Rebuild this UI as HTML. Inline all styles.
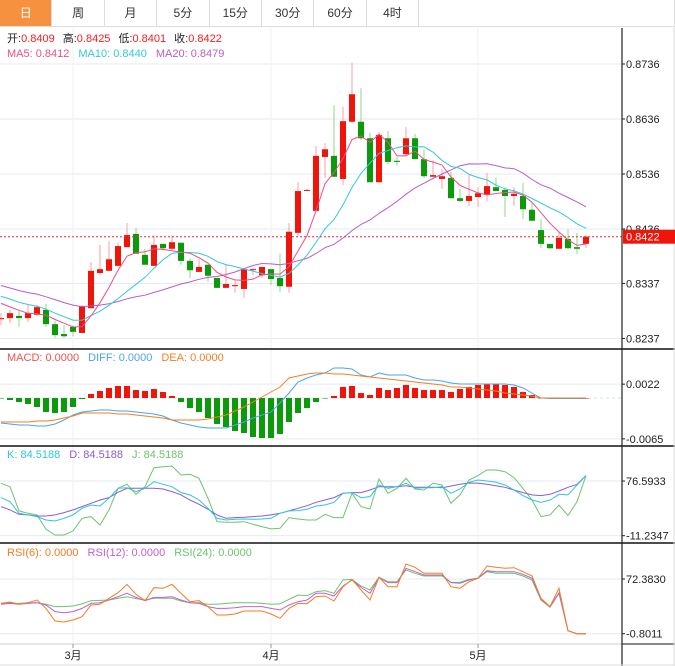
<!DOCTYPE html>
<html><head><meta charset="utf-8">
<style>
html,body{margin:0;padding:0;background:#fff;}
body{width:675px;height:666px;overflow:hidden;font-family:"Liberation Sans","Noto Sans CJK SC",sans-serif;}
.tabs{position:absolute;left:0;top:0;height:27px;display:flex;border-bottom:1px solid #ddd;width:675px;box-sizing:border-box;border-right:1px solid #ddd;}
.tab{width:52.4px;height:26px;line-height:26px;text-align:center;font-size:12px;color:#333;border-right:1px solid #ddd;box-sizing:border-box;}
.tab.on{background:#f5913f;color:#fff;}
svg{position:absolute;left:0;top:0;}
</style></head><body>
<div class="tabs">
<div class="tab on">日</div>
<div class="tab">周</div>
<div class="tab">月</div>
<div class="tab">5分</div>
<div class="tab">15分</div>
<div class="tab">30分</div>
<div class="tab">60分</div>
<div class="tab">4时</div>
</div>
<svg id="c" width="675" height="666" viewBox="0 0 675 666"></svg>
<script>
// ---- price data (units of 0.0001) ----
const preCloses=[8372,8365,8360,8350,8358,8345,8352,8340,8348,8340,8330,8334,8322,8326,8318,8315,8305,8310,8300];
const opens=[8272,8274,8278,8274,8280,8289,8263,8245,8258,8247,8292,8356,8360,8369,8403,8427,8389,8369,8409,8400,8411,8378,8358,8371,8347,8329,8332,8327,8363,8352,8363,8347,8331,8429,8507,8469,8567,8569,8527,8631,8631,8601,8521,8601,8560,8572,8601,8563,8531,8527,8529,8492,8487,8494,8498,8512,8507,8496,8496,8471,8434,8409,8400,8418,8403,8409];
const highs=[8283,8289,8287,8298,8298,8300,8269,8261,8261,8298,8376,8407,8414,8411,8447,8438,8400,8425,8409,8425,8411,8383,8381,8371,8347,8371,8343,8363,8363,8367,8363,8391,8447,8521,8509,8587,8592,8661,8658,8738,8692,8611,8612,8614,8567,8621,8609,8581,8561,8545,8540,8509,8534,8512,8538,8529,8512,8512,8520,8485,8454,8409,8431,8436,8429,8425];
const lows=[8261,8265,8258,8267,8278,8258,8238,8238,8241,8247,8292,8352,8360,8369,8403,8391,8371,8369,8396,8396,8371,8347,8358,8340,8329,8329,8320,8311,8352,8347,8334,8321,8320,8423,8505,8469,8529,8531,8516,8629,8598,8521,8521,8554,8551,8569,8563,8529,8531,8509,8492,8485,8478,8476,8487,8505,8458,8478,8454,8451,8401,8400,8400,8400,8391,8401];
const closes=[8274,8283,8274,8283,8294,8263,8243,8241,8249,8296,8360,8363,8381,8405,8425,8391,8371,8407,8401,8412,8378,8361,8367,8351,8329,8336,8334,8363,8363,8367,8345,8332,8431,8505,8507,8569,8581,8531,8632,8681,8601,8521,8607,8558,8558,8601,8563,8532,8534,8532,8492,8487,8496,8501,8514,8505,8496,8500,8472,8451,8409,8401,8420,8401,8400,8422];
const priceTicks=["0.8736","0.8636","0.8536","0.8436","0.8337","0.8237"];
// ---- MACD (units of 0.0001) ----
const macdHist=[-0.8,-3.2,-6.4,-9.5,-14.3,-22.3,-23.9,-22.3,-14.3,-1.6,6.4,11.1,15.9,19.1,19.1,12.7,11.1,14.3,9.5,3.2,-6.4,-15.9,-22.3,-31.8,-41.3,-46.1,-52.5,-55.7,-62.0,-63.6,-63.6,-57.2,-38.2,-23.9,-15.9,-6.4,-0.8,3.2,17.5,19.1,7.9,4.8,15.9,12.7,15.9,20.7,15.9,12.7,12.7,12.7,9.5,14.3,17.5,20.7,22.3,22.3,20.7,17.5,9.5,4.8,0,0,0,0,0,0];
const diffVals=[-39.8,-41.3,-42.9,-42.9,-44.5,-44.5,-41.3,-35.0,-27.0,-22.3,-20.7,-19.1,-19.1,-20.7,-20.7,-22.3,-23.9,-25.4,-28.6,-35.0,-39.8,-42.9,-46.1,-47.7,-47.7,-47.7,-42.9,-38.2,-31.8,-27.0,-22.3,-7.9,7.9,25.4,31.8,36.6,39.8,47.7,47.7,46.1,36.6,33.4,39.8,36.6,36.6,36.6,31.8,28.6,28.6,27.0,23.9,22.3,22.3,22.3,22.3,22.3,22.3,20.7,15.9,7.9,0,-0.8,-0.8,-0.8,-0.8,-0.8];
const deaVals=[-38.2,-38.2,-38.2,-38.2,-36.6,-36.6,-35.0,-31.8,-28.6,-23.9,-23.9,-23.9,-23.9,-25.4,-25.4,-27.0,-28.6,-30.2,-31.8,-35.0,-35.0,-35.0,-35.0,-33.4,-30.2,-27.0,-20.7,-14.3,-6.4,1.6,9.5,17.5,31.8,35.0,38.2,39.8,39.8,38.2,38.2,36.6,35.0,33.4,31.8,30.2,28.6,27.0,25.4,23.9,22.3,20.7,17.5,17.5,15.9,14.3,12.7,11.1,7.9,6.4,4.8,3.2,0,0,0,0,0,0];
const macdTicks=["0.0022","-0.0065"];
// ---- KDJ ----
const kVals=[49.9,43.4,24.7,22.1,19.4,14.0,12.4,16.7,22.1,32.8,38.1,36.5,48.8,64.9,65.9,59.5,64.9,75.5,71.3,67.5,57.9,54.2,46.1,32.8,16.7,14.0,15.1,15.6,15.1,15.6,16.7,24.7,28.5,29.0,31.1,36.5,38.1,42.4,56.8,57.9,49.9,51.5,70.2,64.9,67.5,72.9,64.9,65.9,65.9,67.5,56.8,63.8,74.5,78.2,76.6,74.5,70.2,62.2,53.1,46.1,42.4,46.1,55.2,54.2,70.2,85.2];
const dVals=[35.4,30.1,23.1,22.1,20.4,20.4,22.1,25.8,30.1,35.4,40.8,46.1,49.9,58.4,64.9,64.9,64.9,64.9,63.8,59.5,54.2,46.1,39.2,31.1,22.1,16.7,17.8,18.3,19.4,20.4,22.1,24.7,28.5,32.8,37.0,42.4,46.1,49.9,56.8,57.9,57.9,62.2,67.5,67.5,67.5,69.1,66.5,66.5,66.5,65.9,68.6,71.3,73.4,72.9,71.3,69.1,66.5,62.2,57.9,54.2,53.1,55.2,60.6,66.5,71.3,85.2];
const jVals=[72.9,67.5,28.5,24.7,22.1,-1.0,-10.1,-10.1,-3.6,16.7,19.4,6.0,30.1,64.9,71.3,55.2,67.5,98.0,99.6,100.7,86.3,87.3,80.9,48.8,11.3,10.3,10.3,11.3,7.1,3.3,-0.4,0.7,17.8,15.6,14.0,14.0,23.1,17.8,17.8,56.8,35.4,31.7,79.8,56.8,64.9,80.9,63.8,62.2,72.9,70.2,40.8,54.2,78.2,85.2,94.3,94.3,91.6,82.0,64.9,46.1,19.4,22.1,38.1,21.0,43.4,85.2];
const kdjTicks=["76.5933","-11.2347"];
// ---- RSI ----
const rsi6=[39.8,41.6,38.5,40.7,44.3,33.1,16.2,14.8,17.5,22.0,37.6,38.5,46.5,54.1,65.2,51.9,43.4,60.8,59.9,65.2,53.2,42.0,43.4,35.4,24.2,24.2,25.6,29.6,29.6,29.6,25.6,19.8,33.1,39.8,39.4,48.7,49.6,42.9,62.1,71.9,57.7,44.3,74.6,62.1,62.1,92.5,88.0,80.0,80.0,80.0,62.1,59.9,68.8,73.3,89.8,88.0,86.7,87.5,82.2,76.4,46.5,35.4,59.9,3.2,-0.8,-0.8];
const rsi12=[38.5,39.8,38.5,39.8,40.7,37.6,28.7,27.3,28.7,33.1,39.8,40.7,44.3,48.7,53.2,47.8,43.4,47.8,47.8,48.7,44.3,40.7,39.8,35.4,33.1,33.1,34.0,35.4,35.4,35.4,33.1,30.9,37.6,42.0,44.3,53.2,53.2,49.6,63.0,71.1,61.2,53.2,74.2,67.5,67.5,86.7,82.2,77.7,77.7,77.7,67.5,66.6,71.1,73.3,83.5,82.2,82.2,82.2,78.6,73.3,45.2,35.4,54.1,3.2,-0.8,-0.8];
const rsi24=[39.8,40.3,39.8,40.7,40.7,38.5,35.4,35.4,36.2,39.0,43.4,43.8,44.3,46.5,48.7,46.1,44.3,46.5,46.5,46.5,42.9,40.7,40.7,38.5,38.5,39.8,40.7,40.7,40.7,39.8,38.5,39.0,45.2,51.0,50.1,55.4,56.8,53.2,71.1,71.9,63.0,57.7,74.6,68.8,68.8,84.4,80.0,76.4,76.4,76.4,67.9,67.9,71.9,73.3,82.2,80.0,80.0,80.0,76.4,71.1,44.3,34.5,53.2,3.2,-0.8,-0.8];
const rsiTicks=["72.3830","-0.8011"];
const monthLabels=["3月","4月","5月"];
const monthIdx=[8,30,53];
const lastPrice="0.8422";

const NS="http://www.w3.org/2000/svg";
const svg=document.getElementById('c');
function mk(tag,attrs,parent){const e=document.createElementNS(NS,tag);for(const k in attrs)e.setAttribute(k,attrs[k]);(parent||svg).appendChild(e);return e;}
const AX=622;
const xAt=i=>1+9*i;
const yPrice=v=>64+(8736-v)*0.55;
const yMacd=v=>398-v/1.59;
const yKdj=v=>481+(76.5933-v)/1.606;
const yRsi=v=>579+(72.383-v)/1.338;

// grids
const grid=mk('g',{});


priceTicks.forEach(t=>{const y=yPrice(parseFloat(t)*1e4);mk('line',{x1:0,x2:AX,y1:y,y2:y,stroke:'#e3ebf2','stroke-width':1},grid);});
macdTicks.forEach(t=>{const y=yMacd(parseFloat(t)*1e4);mk('line',{x1:0,x2:AX,y1:y,y2:y,stroke:'#e3ebf2'},grid);});
kdjTicks.forEach(t=>{const y=yKdj(parseFloat(t));mk('line',{x1:0,x2:AX,y1:y,y2:y,stroke:'#e3ebf2'},grid);});
rsiTicks.forEach(t=>{const y=yRsi(parseFloat(t));mk('line',{x1:0,x2:AX,y1:y,y2:y,stroke:'#e3ebf2'},grid);});
monthIdx.forEach(i=>{const x=xAt(i);mk('line',{x1:x,x2:x,y1:28,y2:644,stroke:'#edf2f6'},grid);});

// candles
const cg=mk('g',{});


closes.forEach((c,i)=>{
  const o=opens[i],up=c>=o,x=xAt(i);
  const col=up?'#f0150a':'#0a9a0a',wc=up?'#f7a0a0':'#8fd68f';
  const w=mk('line',{x1:x,x2:x,y1:yPrice(highs[i]),y2:yPrice(lows[i]),stroke:wc},cg);
  
  
  const t=Math.min(yPrice(o),yPrice(c)),h=Math.max(1,Math.abs(yPrice(o)-yPrice(c)));
  const b=mk('rect',{x:x-3,y:t,width:6,height:h,fill:col},cg);
  
  
});
// moving averages
const all=preCloses.concat(closes);
function ma(n){return closes.map((_,i)=>{const j=i+preCloses.length;let s=0;for(let k=j-n+1;k<=j;k++)s+=all[k];return s/n;});}
function line(vals,fy,col,name,w){const p=mk('polyline',{points:vals.map((v,i)=>xAt(i)+','+fy(v).toFixed(1)).join(' '),fill:'none',stroke:col,'stroke-width':w||1});return p;}
line(ma(20),yPrice,'#b85ccc','ma20-line');
line(ma(10),yPrice,'#34c6dc','ma10-line');
line(ma(5),yPrice,'#ee4d86','ma5-line');
// last price line
const ly=yPrice(parseFloat(lastPrice)*1e4);
const lp=mk('line',{x1:0,x2:AX,y1:ly,y2:ly,stroke:'#f03030','stroke-dasharray':'2,2'});



// MACD
const zl=mk('line',{x1:0,x2:AX,y1:yMacd(0),y2:yMacd(0),stroke:'#cfe3f0','stroke-dasharray':'3,3'});


macdHist.forEach((v,i)=>{const y0=yMacd(0),y1=yMacd(v);
  const r=mk('rect',{x:xAt(i)-3,y:Math.min(y0,y1),width:6,height:Math.max(0.5,Math.abs(y1-y0)),fill:v>=0?'#f0150a':'#0a9a0a'});
  
  
});
line(diffVals,yMacd,'#4aa3f0','diff-line');
line(deaVals,yMacd,'#f57f20','dea-line');
// KDJ
line(jVals,yKdj,'#6cc46c','j-line');
line(dVals,yKdj,'#8a5cd6','d-line');
line(kVals,yKdj,'#2ec7d9','k-line');
// RSI
line(rsi24,yRsi,'#6cc46c','rsi24-line');
line(rsi12,yRsi,'#c060d0','rsi12-line');
line(rsi6,yRsi,'#f57c20','rsi6-line');

// separators and axis
[[349,'main-bottom'],[446,'macd-bottom'],[543,'kdj-bottom']].forEach(s=>{const l=mk('line',{x1:0,x2:675,y1:s[0],y2:s[0],stroke:'#111','stroke-width':1.5});});
const bl=mk('line',{x1:0,x2:622,y1:644,y2:644,stroke:'#ccc'});


const rb=mk('line',{x1:622,x2:675,y1:644,y2:644,stroke:'#111'});


const va=mk('line',{x1:AX,x2:AX,y1:28,y2:666,stroke:'#222','stroke-width':1.2});


mk('line',{x1:674,x2:674,y1:27,y2:666,stroke:'#ddd'});
mk('line',{x1:0,x2:675,y1:665,y2:665,stroke:'#ddd'});

function tick(y,label,name){mk('line',{x1:AX,x2:AX+3,y1:y,y2:y,stroke:'#222'});const t=mk('text',{x:AX+4,y:y+4,'font-size':'11',fill:'#222'});t.textContent=label;}
priceTicks.forEach(t=>tick(yPrice(parseFloat(t)*1e4),t,'price-tick-label'));
macdTicks.forEach(t=>tick(yMacd(parseFloat(t)*1e4),t,'macd-tick-label'));
kdjTicks.forEach(t=>tick(yKdj(parseFloat(t)),t,'kdj-tick-label'));
rsiTicks.forEach(t=>tick(yRsi(parseFloat(t)),t,'rsi-tick-label'));
// last price tag
const tag=mk('rect',{x:AX+1,y:ly-7,width:52,height:14,fill:'#f0150a'});


const tt=mk('text',{x:AX+4,y:ly+4,'font-size':'11',fill:'#fff'});
tt.textContent=lastPrice;


// months
monthLabels.forEach((m,i)=>{const x=xAt(monthIdx[i]);mk('line',{x1:x,x2:x,y1:644,y2:648,stroke:'#999'});const t=mk('text',{x:x,y:659,'font-size':'11','text-anchor':'middle',fill:'#222'});t.textContent=m;});

// legends
function legend(y,items,name){const t=mk('text',{x:7,y:y,'font-size':'11'});items.forEach(it=>{const s=mk('tspan',{fill:it[1]},t);if(it[2])s.setAttribute('dx',it[2]);s.textContent=it[0];});}
legend(42,[['开:','#222'],['0.8409','#f02020'],['高:','#222',8],['0.8425','#f02020'],['低:','#222',8],['0.8401','#f02020'],['收:','#222',8],['0.8422','#f02020']],'ohlc-legend');
legend(57,[['MA5: 0.8412','#ee4d86'],['MA10: 0.8440','#34c6dc',9],['MA20: 0.8479','#b85ccc',9]],'ma-legend');
legend(361,[['MACD: 0.0000','#f05050'],['DIFF: 0.0000','#4aa3f0',9],['DEA: 0.0000','#f57f20',9]],'macd-legend');
legend(458,[['K: 84.5188','#2ec7d9'],['D: 84.5188','#8a5cd6',9],['J: 84.5188','#6cc46c',9]],'kdj-legend');
legend(556,[['RSI(6): 0.0000','#f57c20'],['RSI(12): 0.0000','#c060d0',9],['RSI(24): 0.0000','#6cc46c',9]],'rsi-legend');
</script>
</body></html>
